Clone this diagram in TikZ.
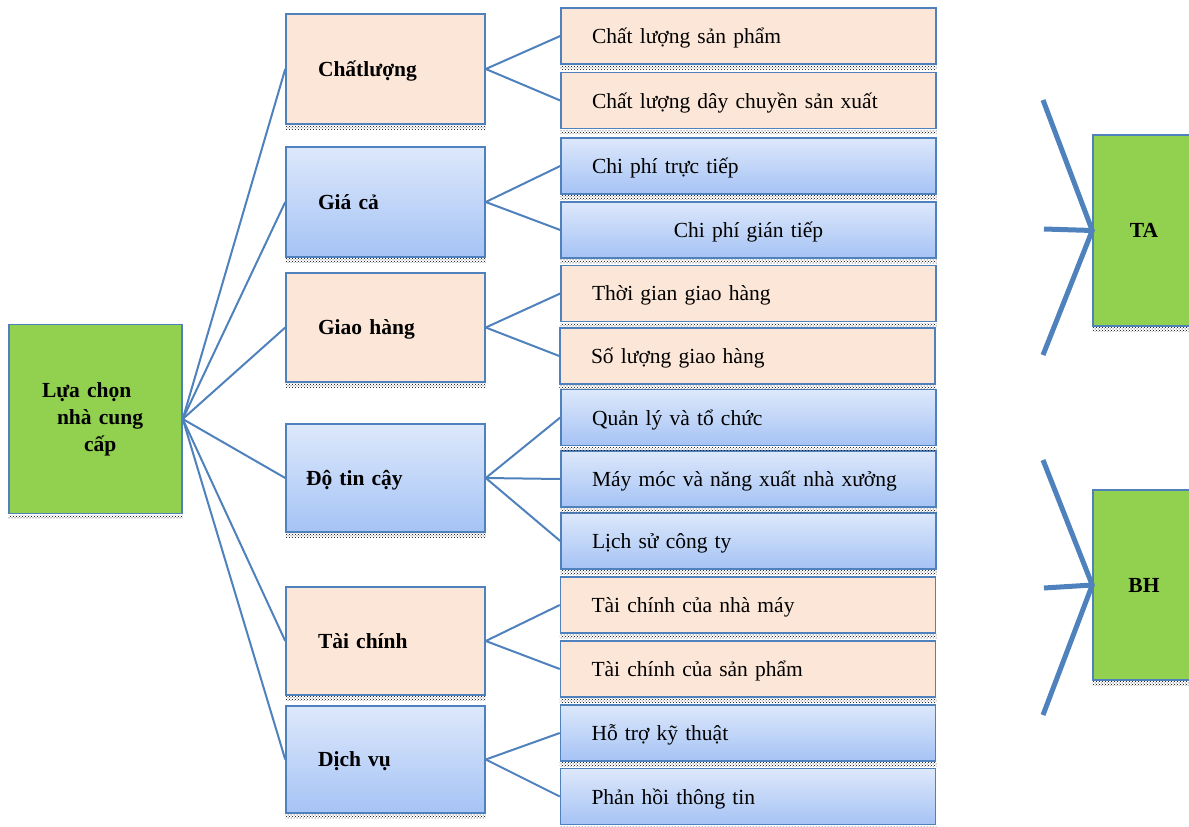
\documentclass[tikz,border=0pt]{standalone}
\usepackage{fontspec}
\setmainfont{Liberation Serif}
\usetikzlibrary{patterns}
\definecolor{leafgreen}{HTML}{92D050}
\definecolor{peach}{HTML}{FBE6D7}
\definecolor{edgeblue}{HTML}{4F81BD}
\definecolor{skytop}{HTML}{DDE8FB}
\definecolor{skybot}{HTML}{A5C3F5}

\begin{document}
\begin{tikzpicture}[x=1pt,y=-1pt,
  box/.style={draw=edgeblue,line width=1.5pt,inner sep=0pt,font=\fontsize{21.5}{26}\selectfont},
  rootbox/.style={box,fill=leafgreen,font=\fontsize{21.5}{27}\selectfont\bfseries,align=center},
  crit/.style={box,minimum width=199,text width=135,inner xsep=32,text depth=0pt,align=left,font=\fontsize{21.5}{26}\selectfont\bfseries},
  sub/.style={box,minimum width=375,minimum height=56,text width=313,inner xsep=31,text depth=0pt,align=left},
  warm/.style={fill=peach},
  cool/.style={top color=skytop,bottom color=skybot,draw=edgeblue},
  link/.style={draw=edgeblue,line width=2pt},
  fork/.style={draw=edgeblue,line width=5pt}]
  \useasboundingbox (0,0) rectangle (1189,827);

  \node[rootbox,minimum width=173,minimum height=189,text width=107,inner xsep=33,align=left] (lc) at (95.5,419) {Lựa chọn\\ \hspace*{15pt}nhà cung\\ \hspace*{42pt}cấp};

  \node[crit,warm,minimum height=110] (c1) at (385.5,69) {Chấtlượng};
  \node[crit,cool,minimum height=110] (c2) at (385.5,202) {Giá cả};
  \node[crit,warm,minimum height=109] (c3) at (385.5,327.5) {Giao hàng};
  \node[crit,cool,minimum height=108] (c4) at (385.5,478) {\hspace*{-12pt}Độ tin cậy};
  \node[crit,warm,minimum height=108] (c5) at (385.5,641) {Tài chính};
  \node[crit,cool,minimum height=107] (c6) at (385.5,759.5) {Dịch vụ};

  \node[sub,warm] (s1) at (748.5,36) {Chất lượng sản phẩm};
  \node[sub,warm] (s2) at (748.5,100.5) {Chất lượng dây chuyền sản xuất};
  \node[sub,cool] (s3) at (748.5,166) {Chi phí trực tiếp};
  \node[sub,cool,align=center] (s4) at (748.5,230) {Chi phí gián tiếp};
  \node[sub,warm] (s5) at (748.5,293.5) {Thời gian giao hàng};
  \node[sub,warm] (s6) at (747.5,356) {Số lượng giao hàng};
  \node[sub,cool] (s7) at (748.5,417.5) {Quản lý và tổ chức};
  \node[sub,cool] (s8) at (748.5,479) {Máy móc và năng xuất nhà xưởng};
  \node[sub,cool] (s9) at (748.5,541) {Lịch sử công ty};
  \node[sub,warm] (s10) at (748,605) {Tài chính của nhà máy};
  \node[sub,warm] (s11) at (748,669) {Tài chính của sản phẩm};
  \node[sub,cool] (s12) at (748,733) {Hỗ trợ kỹ thuật};
  \node[sub,cool] (s13) at (748,796.5) {Phản hồi thông tin};

  \node[rootbox,minimum width=102,minimum height=191] (ta) at (1144,230.5) {TA};
  \node[rootbox,minimum width=102,minimum height=190] (bh) at (1144,585) {BH};

  % hatched shadow under every box
  \foreach \n in {lc,c1,c2,c3,c4,c5,c6,s1,s2,s3,s4,s5,s6,s7,s8,s9,s10,s11,s12,s13,ta,bh}{
  \fill[pattern=crosshatch dots,pattern color=black] ([yshift=-0.8pt]\n.south west) rectangle ([yshift=-4.5pt]\n.south east);
  }

  \foreach \c in {c1,c2,c3,c4,c5,c6}{
  \draw[link] (lc.east)--(\c.west);
  }
  \draw[link] (c1.east)--(s1.west); \draw[link] (c1.east)--(s2.west);
  \draw[link] (c2.east)--(s3.west); \draw[link] (c2.east)--(s4.west);
  \draw[link] (c3.east)--(s5.west); \draw[link] (c3.east)--(s6.west);
  \draw[link] (c4.east)--(s7.west); \draw[link] (c4.east)--(s8.west); \draw[link] (c4.east)--(s9.west);
  \draw[link] (c5.east)--(s10.west); \draw[link] (c5.east)--(s11.west);
  \draw[link] (c6.east)--(s12.west); \draw[link] (c6.east)--(s13.west);

  \coordinate (ta1) at (1043,100); \coordinate (ta2) at (1044,229); \coordinate (ta3) at (1043,355);
  \coordinate (bh1) at (1043,460); \coordinate (bh2) at (1044,588); \coordinate (bh3) at (1043,715);
  \draw[fork] (ta1)--(ta.west)--(ta3); \draw[fork] (ta2)--(ta.west);
  \draw[fork] (bh1)--(bh.west)--(bh3); \draw[fork] (bh2)--(bh.west);
\end{tikzpicture}
\end{document}
